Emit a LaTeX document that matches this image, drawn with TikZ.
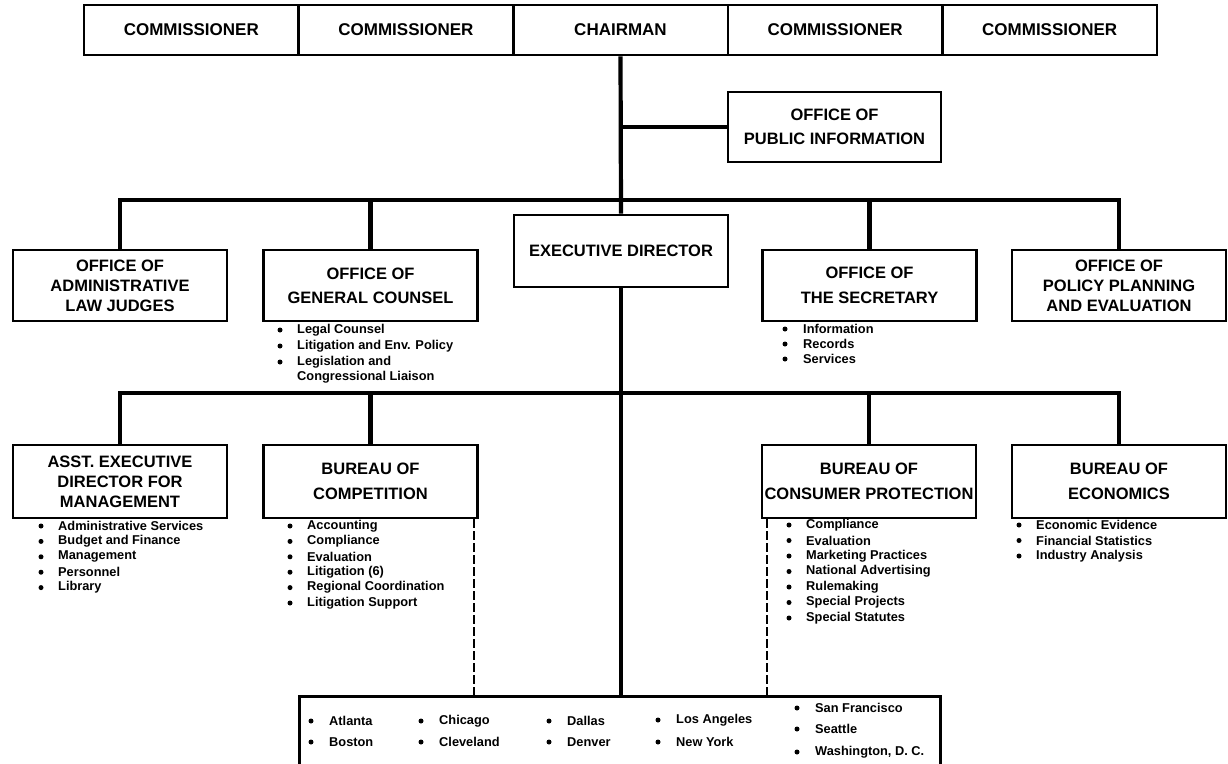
\documentclass[tikz,border=0pt]{standalone}
\usepackage{fontspec}
\setmainfont{Liberation Sans}
\usetikzlibrary{positioning}
\tikzset{
  unitbox/.style={draw,line width=2.6pt,fill=white,align=center,inner sep=0pt,
    minimum width=214pt,font=\bfseries\fontsize{16.5}{20}\selectfont},
  link/.style={line width=4.2pt},
  subline/.style={line width=1.6pt,dash pattern=on 9pt off 3pt},
  item/.style={anchor=west,inner sep=0pt,font=\bfseries\fontsize{12.8}{15.5}\selectfont}
}
\begin{document}
\begin{tikzpicture}[x=1pt,y=-1pt]
\useasboundingbox (0,0) rectangle (1228,763);
\clip (0,0) rectangle (1228,763);
\foreach \t [count=\i] in {COMMISSIONER,COMMISSIONER,CHAIRMAN,COMMISSIONER,COMMISSIONER} {
  \node[unitbox,font=\bfseries\fontsize{17}{20}\selectfont,minimum width=214.6pt,minimum height=50pt] (top-\i) at ({84+214.6*(\i-0.5)},30) {\t};
}
\node[unitbox,minimum width=213pt,minimum height=70pt] (opi) at (834.5,127) {OFFICE OF\\[4pt]PUBLIC INFORMATION};
\node[unitbox,minimum height=71pt] (alj) at (120,285.5) {OFFICE OF\\ADMINISTRATIVE\\LAW JUDGES};
\node[unitbox,minimum height=71pt] (gc) at (370.5,285.5) {OFFICE OF\\[4pt]GENERAL COUNSEL};
\node[unitbox,minimum height=72pt] (exec) at (621,251) {EXECUTIVE DIRECTOR};
\node[unitbox,minimum height=71pt] (sec) at (869.5,285.5) {OFFICE OF\\[5pt]THE SECRETARY};
\node[unitbox,minimum height=71pt] (ppe) at (1119,285.5) {OFFICE OF\\POLICY PLANNING\\AND EVALUATION};
\node[unitbox,minimum height=73pt] (asst) at (120,481.5) {ASST. EXECUTIVE\\DIRECTOR FOR\\MANAGEMENT};
\node[unitbox,minimum height=73pt] (comp) at (370.5,481.5) {BUREAU OF\\[5pt]COMPETITION};
\node[unitbox,minimum height=73pt] (cp) at (869,481.5) {BUREAU OF\\[5pt]CONSUMER PROTECTION};
\node[unitbox,minimum height=73pt] (econ) at (1119,481.5) {BUREAU OF\\[5pt]ECONOMICS};
\node[draw,line width=2.6pt,minimum width=641pt,minimum height=120pt,anchor=north west] (regions) at (298,695) {};
\coordinate (bar2) at (0,200);
\coordinate (bar3) at (0,393);
\draw[link] (top-3.south) -- (exec.north);
\draw[link] (exec.south) -- (exec.south |- regions.north);
\draw[link] (opi.west) -- (opi.west -| top-3.south);
\draw[link] (alj.north) -- (alj.north |- bar2) -- (ppe.north |- bar2) -- (ppe.north);
\draw[link] (gc.north) -- (gc.north |- bar2);
\draw[link] (sec.north) -- (sec.north |- bar2);
\draw[link] (asst.north) -- (asst.north |- bar3) -- (econ.north |- bar3) -- (econ.north);
\draw[link] (comp.north) -- (comp.north |- bar3);
\draw[link] (cp.north) -- (cp.north |- bar3);
\draw[subline] ([xshift=-5pt]comp.south east) -- ([xshift=-5pt]comp.south east |- regions.north);
\draw[subline] ([xshift=6pt]cp.south west) -- ([xshift=6pt]cp.south west |- regions.north);
\foreach \t [count=\i] in {Legal Counsel,Litigation and Env. Policy,Legislation and} {
  \fill (280,{330+16*(\i-1)}) circle (2.5pt);
  \node[item] (gc-\i) at (297,{330+16*(\i-1)}) {\t};
}
\node[item] (gc-4) at (297,377) {Congressional Liaison};
\foreach \t [count=\i] in {Information,Records,Services} {
  \fill (785,{329+15*(\i-1)}) circle (2.5pt);
  \node[item] (sec-\i) at (803,{329+15*(\i-1)}) {\t};
}
\foreach \t [count=\i] in {Administrative Services,Budget and Finance,Management,Personnel,Library} {
  \fill (41,{526+15.4*(\i-1)}) circle (2.5pt);
  \node[item] (asst-\i) at (58,{526+15.4*(\i-1)}) {\t};
}
\foreach \t [count=\i] in {Accounting,Compliance,Evaluation,Litigation (6),Regional Coordination,Litigation Support} {
  \fill (290,{526+15.4*(\i-1)}) circle (2.5pt);
  \node[item] (comp-\i) at (307,{526+15.4*(\i-1)}) {\t};
}
\foreach \t [count=\i] in {Compliance,Evaluation,Marketing Practices,National Advertising,Rulemaking,Special Projects,Special Statutes} {
  \fill (789,{525+15.5*(\i-1)}) circle (2.5pt);
  \node[item] (cp-\i) at (806,{525+15.5*(\i-1)}) {\t};
}
\foreach \t [count=\i] in {Economic Evidence,Financial Statistics,Industry Analysis} {
  \fill (1019,{525+15.5*(\i-1)}) circle (2.5pt);
  \node[item] (econ-\i) at (1036,{525+15.5*(\i-1)}) {\t};
}
\foreach \t/\x/\y [count=\i] in {Atlanta/311/721,Boston/311/742,Chicago/421/721,Cleveland/421/742,Dallas/549/721,Denver/549/742,Los Angeles/658/720,New York/658/742,San Francisco/797/708,Seattle/797/729,{Washington, D. C.}/797/752} {
  \fill (\x,\y) circle (2.5pt);
  \node[item] (city-\i) at (\x+18,\y) {\t};
}
\end{tikzpicture}
\end{document}
